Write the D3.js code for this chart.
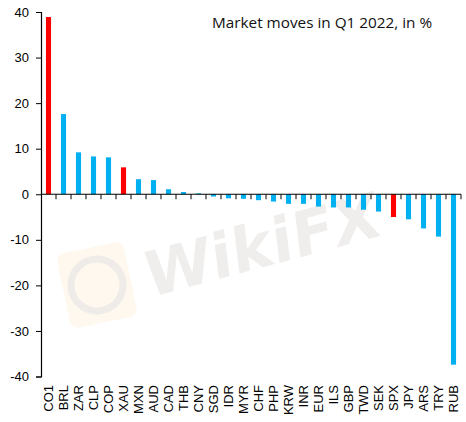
<!DOCTYPE html>
<html>
<head>
<meta charset="utf-8">
<script src="https://cdn.jsdelivr.net/npm/d3@7"></script>
<style>
  body { margin: 0; background: #fff; }
  svg { display: block; }
</style>
</head>
<body>
<svg id="chart" width="466" height="422"></svg>
<script>
// market moves in Q1 2022, %
var tickers = ["CO1", "BRL", "ZAR", "CLP", "COP", "XAU", "MXN", "AUD", "CAD", "THB",
    "CNY", "SGD", "IDR", "MYR", "CHF", "PHP", "KRW", "INR", "EUR", "ILS",
    "GBP", "TWD", "SEK", "SPX", "JPY", "ARS", "TRY", "RUB"];
var moves = [38.9, 17.6, 9.2, 8.3, 8.1, 5.9, 3.3, 3.1, 1.1, 0.5,
    0.2, -0.5, -0.9, -1.0, -1.3, -1.6, -2.1, -2.1, -2.7, -2.9,
    -2.9, -3.4, -3.8, -5.0, -5.5, -7.5, -9.3, -37.4];
var highlighted = ["CO1", "XAU", "SPX"];
var yTicks = [40, 30, 20, 10, 0, -10, -20, -30, -40];

var svg = d3.select("#chart");

var plotLeft = 41, plotRight = 461, plotTop = 12, plotBottom = 376.5;

var x = d3.scaleBand()
    .domain(tickers)
    .range([plotLeft, plotRight])
    .paddingInner(0.66)
    .paddingOuter(0.33);

var y = d3.scaleLinear()
    .domain([-40, 40])
    .range([plotBottom, plotTop]);

// watermark
var wm = svg.append("g").attr("transform", "translate(97,285) rotate(-12)");
wm.append("rect")
    .attr("x", -34).attr("y", -38)
    .attr("width", 68).attr("height", 76)
    .attr("rx", 8)
    .attr("fill", "#fef8ee");
wm.append("circle")
    .attr("r", 26)
    .attr("fill", "none")
    .attr("stroke", "#eeebe8")
    .attr("stroke-width", 7);
svg.append("text")
    .attr("transform", "translate(148,298) rotate(-15) skewX(-8)")
    .attr("font-family", "DejaVu Sans")
    .attr("font-weight", "bold")
    .attr("font-size", 62)
    .attr("fill", "#f0eeed")
    .text("WikiFX");

// bars
svg.selectAll("rect.bar")
    .data(tickers)
    .enter()
    .append("rect")
    .attr("class", "bar")
    .attr("x", function (d) { return x(d); })
    .attr("width", x.bandwidth())
    .attr("y", function (d, i) { return y(Math.max(0, moves[i])); })
    .attr("height", function (d, i) { return Math.abs(y(moves[i]) - y(0)); })
    .attr("fill", function (d) { return highlighted.indexOf(d) >= 0 ? "#ff0000" : "#00b0f0"; });

// y axis (plain hyphen for negatives, like the original)
var yAxis = svg.append("g")
    .attr("transform", "translate(" + plotLeft + ",0)")
    .call(d3.axisLeft(y).tickValues(yTicks).tickSize(5).tickPadding(7)
        .tickFormat(function (d) { return String(d); }));
yAxis.select(".domain").attr("stroke", "#000").attr("stroke-width", 1.2);
yAxis.selectAll("text")
    .attr("font-family", "Liberation Sans, Arial, sans-serif")
    .attr("font-size", 13)
    .attr("fill", "#000");

// zero line with category ticks
var xAxis = svg.append("g")
    .attr("transform", "translate(0," + y(0) + ")");
xAxis.append("line")
    .attr("x1", plotLeft).attr("x2", plotRight)
    .attr("stroke", "#000").attr("stroke-width", 1.2);
xAxis.selectAll("line.tick")
    .data(tickers)
    .enter()
    .append("line")
    .attr("class", "tick")
    .attr("x1", function (d) { return x(d) - x.step() * 0.33 + x.step(); })
    .attr("x2", function (d) { return x(d) - x.step() * 0.33 + x.step(); })
    .attr("y1", 0).attr("y2", 5)
    .attr("stroke", "#000");

// category labels
svg.selectAll("text.cat")
    .data(tickers)
    .enter()
    .append("text")
    .attr("class", "cat")
    .attr("transform", function (d) {
        return "translate(" + (x(d) + x.bandwidth() / 2 + 4.5) + ",385) rotate(-90)";
    })
    .attr("text-anchor", "end")
    .attr("font-family", "Liberation Sans, Arial, sans-serif")
    .attr("font-size", 13)
    .text(function (d) { return d; });

// title
svg.append("text")
    .attr("x", 212)
    .attr("y", 28)
    .attr("font-family", "Open Sans, sans-serif")
    .attr("font-size", 15.3)
    .attr("fill", "#111")
    .text("Market moves in Q1 2022, in %");
</script>
</body>
</html>
